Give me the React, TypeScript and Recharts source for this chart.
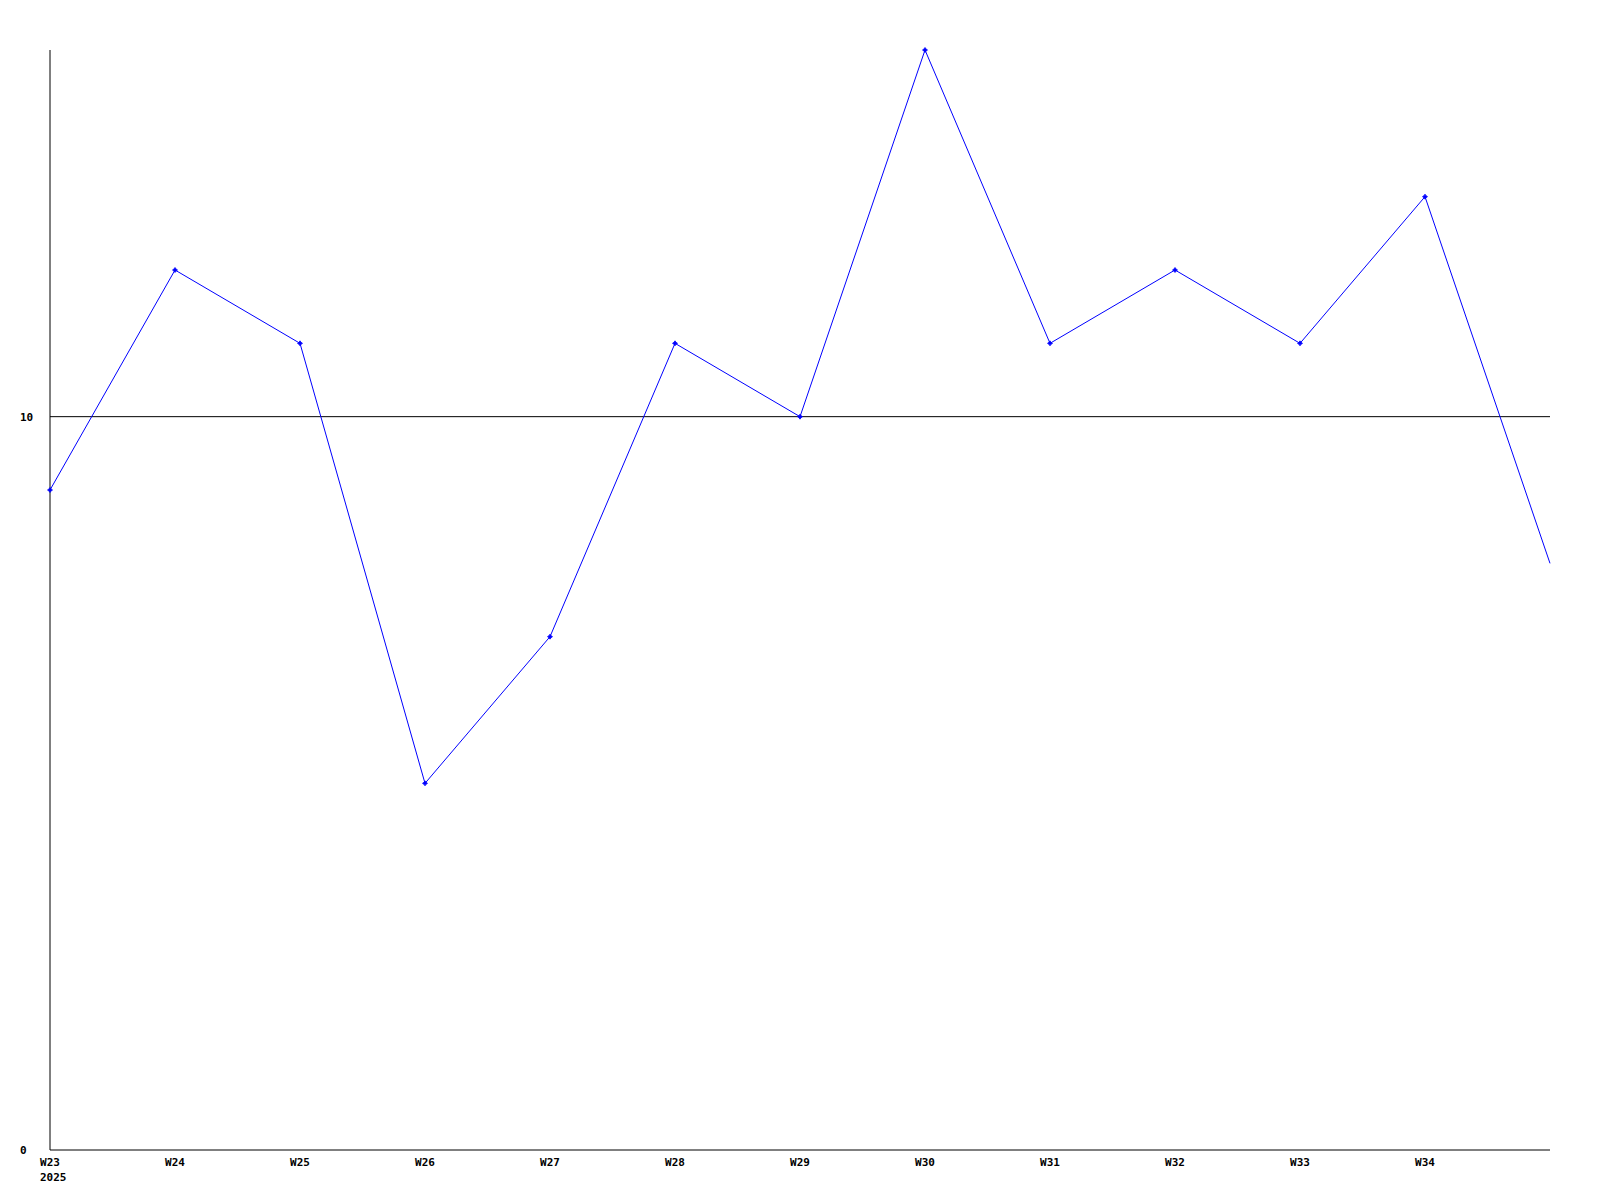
import React from 'react';
import { LineChart, Line, XAxis, YAxis, ReferenceLine } from 'recharts';

const weeks = ['W23', 'W24', 'W25', 'W26', 'W27', 'W28', 'W29', 'W30', 'W31', 'W32', 'W33', 'W34', 'W35'];
const values = [9, 12, 11, 5, 7, 11, 10, 15, 11, 12, 11, 13, 8];
const yTicks = [0, 10];
const yearLabel = '2025';

const data = weeks.map((w, i) => ({ idx: i, week: w, value: values[i] }));
const xTicks = weeks.slice(0, weeks.length - 1).map((_, i) => i);

const FONT = '"DejaVu Sans Mono", monospace';

const XTick = (props: any) => {
  const { x, y, payload } = props;
  const i = payload.value as number;
  return (
    <g>
      <text x={x} y={y} dy={8} textAnchor="middle" fontFamily={FONT} fontWeight="bold" fontSize={11} fill="#000">
        {weeks[i]}
      </text>
      {i === 0 && (
        <text x={x - 10} y={y} dy={23} textAnchor="start" fontFamily={FONT} fontWeight="bold" fontSize={11} fill="#000">
          {yearLabel}
        </text>
      )}
    </g>
  );
};

const YTick = (props: any) => {
  const { y, payload } = props;
  return (
    <text x={20} y={y} dy={4} textAnchor="start" fontFamily={FONT} fontWeight="bold" fontSize={11} fill="#000">
      {payload.value}
    </text>
  );
};

const Dot = (props: any) => {
  const { cx, cy, index } = props;
  if (index === values.length - 1 || cx == null) return <g key={index} />;
  const r = 2.5;
  const d = `M${cx},${cy - r} L${cx + 1},${cy - 1} L${cx + r},${cy} L${cx + 1},${cy + 1} L${cx},${cy + r} L${cx - 1},${cy + 1} L${cx - r},${cy} L${cx - 1},${cy - 1} Z`;
  return <path key={index} d={d} fill="#0000ff" stroke="#0000ff" strokeWidth={0.8} />;
};

export default function App() {
  return (
    <div style={{ position: 'absolute', left: 0, top: 0, background: '#fff' }}>
      <LineChart width={1600} height={1200} data={data} margin={{ top: 50, right: 50, bottom: 0, left: 0 }}>
        <XAxis
          dataKey="idx"
          type="number"
          domain={[0, weeks.length - 1]}
          ticks={xTicks}
          interval={0}
          tick={<XTick />}
          tickLine={false}
          axisLine={{ stroke: '#000', strokeWidth: 1 }}
          height={50}
        />
        <YAxis
          domain={[0, 15]}
          ticks={yTicks}
          tick={<YTick />}
          tickLine={false}
          axisLine={{ stroke: '#000', strokeWidth: 1 }}
          width={50}
        />
        <ReferenceLine y={10} stroke="#000" strokeWidth={1} />
        <Line
          type="linear"
          dataKey="value"
          stroke="#0000ff"
          strokeWidth={1}
          dot={<Dot />}
          activeDot={false}
          isAnimationActive={false}
        />
      </LineChart>
    </div>
  );
}
